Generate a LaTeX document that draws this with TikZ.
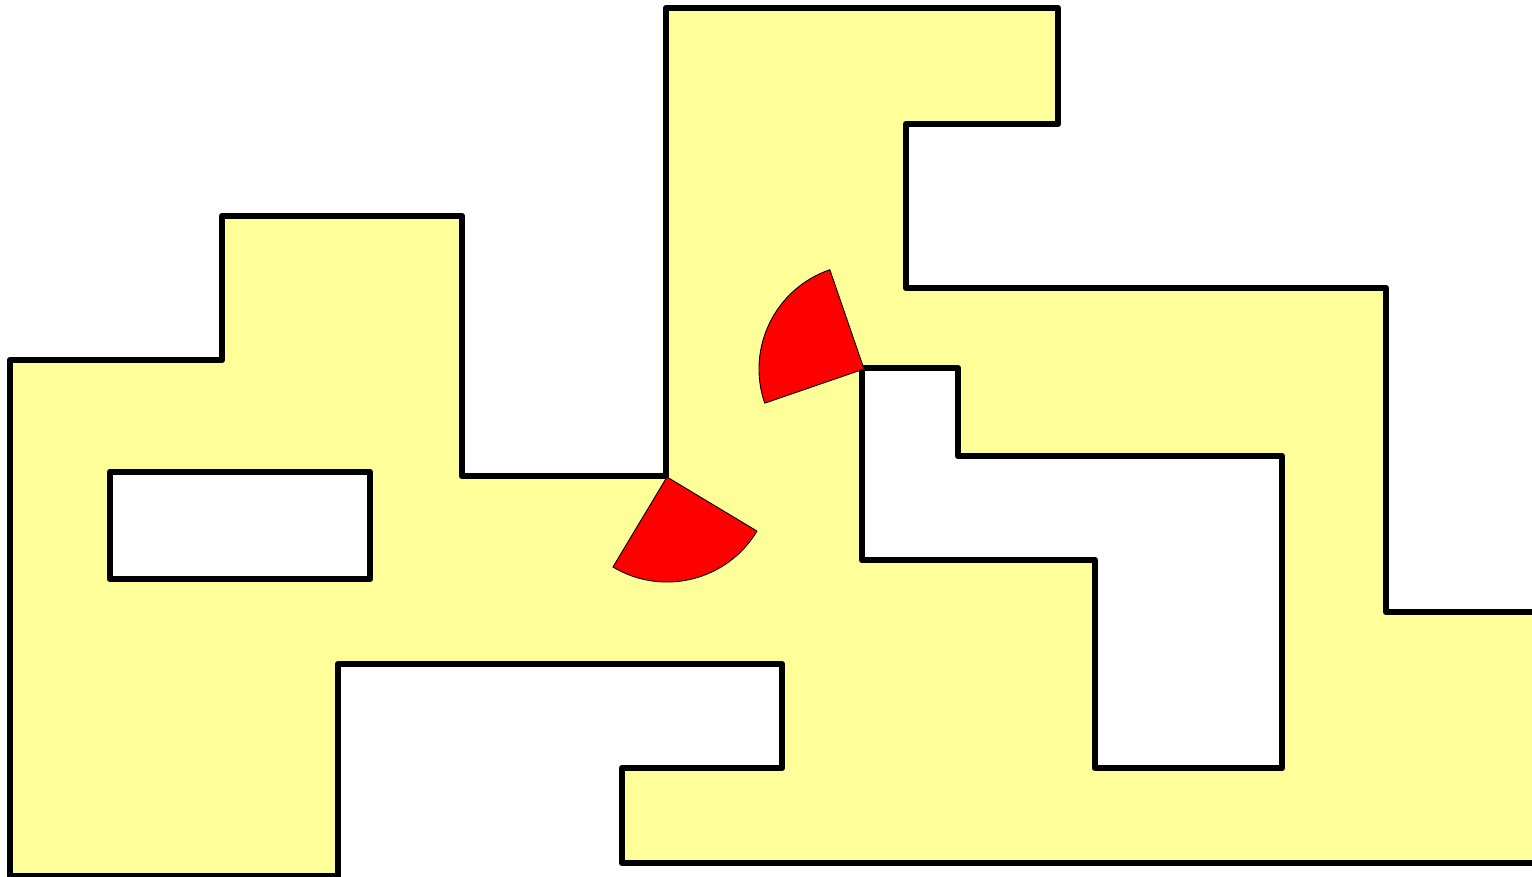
\documentclass[tikz,border=0pt]{standalone}
\definecolor{areaYellow}{HTML}{FFFF99}
\tikzset{
  area/.style={fill=areaYellow, draw=black, line width=6.5pt, line join=round, even odd rule},
  wedge/.style={fill=red, draw=black, line width=0.9pt, line join=round}
}
\begin{document}
\begin{tikzpicture}[x=1pt,y=1pt]
\useasboundingbox (0,0) rectangle (1532,-876);
\clip (0,0) rectangle (1532,-876);
% main area with holes
\path[area]
  (10,-360) -- (222,-360) -- (222,-216) -- (462,-216) -- (462,-476) -- (666,-476)
  -- (666,-8) -- (1058,-8) -- (1058,-124) -- (906,-124) -- (906,-288) -- (1386,-288)
  -- (1386,-612) -- (1545,-612) -- (1545,-863) -- (622,-863) -- (622,-768) -- (782,-768)
  -- (782,-664) -- (338,-664) -- (338,-876) -- (10,-876) -- cycle
  (110,-472) -- (370,-472) -- (370,-579) -- (110,-579) -- cycle
  (862,-368) -- (958,-368) -- (958,-456) -- (1282,-456) -- (1282,-768) -- (1095,-768)
  -- (1095,-560) -- (862,-560) -- cycle;
% wedges
\coordinate (w1) at (667,-477);
\coordinate (w2) at (864,-369);
\draw[wedge] (w1) -- ++(-121:105pt) arc[start angle=-121, end angle=-31, radius=105pt] -- cycle;
\draw[wedge] (w2) -- ++(109:105pt) arc[start angle=109, end angle=199, radius=105pt] -- cycle;
\end{tikzpicture}
\end{document}
